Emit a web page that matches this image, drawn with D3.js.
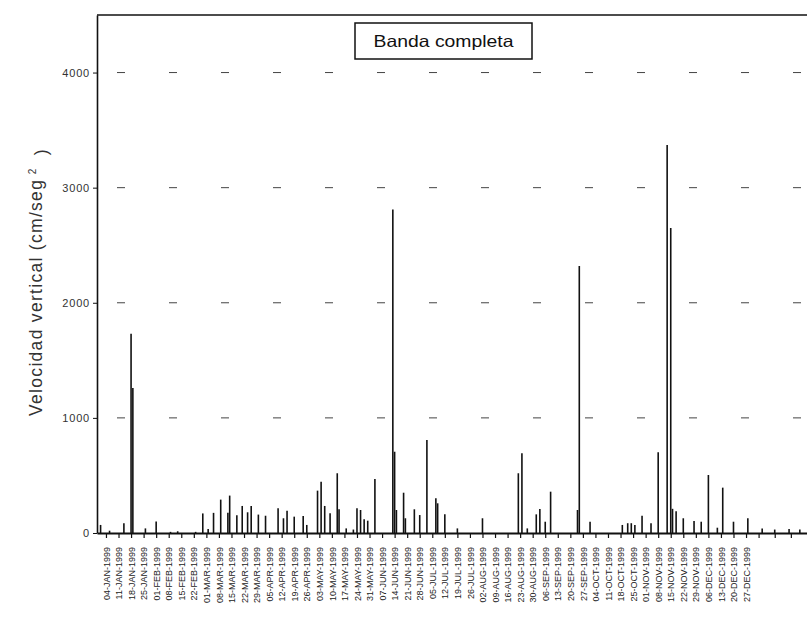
<!DOCTYPE html>
<html>
<head>
<meta charset="utf-8">
<script src="https://cdn.jsdelivr.net/npm/d3@7/dist/d3.min.js"></script>
<style>
  html, body { margin: 0; padding: 0; background: #fff; }
  svg { display: block; font-family: "Liberation Sans", Arial, Helvetica, sans-serif; }
</style>
</head>
<body>
<svg id="chart" width="807" height="618"></svg>
<script>
// ---------------- DATA ----------------
const spikeDates = [
  "1999-01-01","1999-01-06","1999-01-14","1999-01-18","1999-01-19","1999-01-26","1999-02-01","1999-02-09",
  "1999-02-13","1999-02-23","1999-02-27","1999-03-02","1999-03-05","1999-03-09","1999-03-13","1999-03-14",
  "1999-03-18","1999-03-21","1999-03-24","1999-03-26","1999-03-30","1999-04-03","1999-04-10","1999-04-13",
  "1999-04-15","1999-04-19","1999-04-24","1999-04-26","1999-05-02","1999-05-04","1999-05-06","1999-05-09",
  "1999-05-13","1999-05-14","1999-05-18","1999-05-22","1999-05-24","1999-05-26","1999-05-28","1999-05-30",
  "1999-06-03","1999-06-13","1999-06-14","1999-06-15","1999-06-19","1999-06-20","1999-06-25","1999-06-28",
  "1999-07-02","1999-07-07","1999-07-08","1999-07-12","1999-07-19","1999-08-02","1999-08-22","1999-08-24",
  "1999-08-27","1999-09-01","1999-09-03","1999-09-06","1999-09-09","1999-09-24","1999-09-25","1999-10-01",
  "1999-10-19","1999-10-22","1999-10-24","1999-10-26","1999-10-30","1999-11-04","1999-11-08","1999-11-13",
  "1999-11-15","1999-11-16","1999-11-18","1999-11-22","1999-11-28","1999-12-02","1999-12-06","1999-12-11",
  "1999-12-14","1999-12-20","1999-12-28","2000-01-05","2000-01-12","2000-01-20","2000-01-26"
];
const spikeValues = [
  70, 20, 85, 1730, 1260, 40, 100, 10,
  15, 10, 170, 35, 175, 290, 175, 325,
  155, 235, 180, 235, 160, 150, 215, 128,
  194, 142, 148, 70, 368, 446, 235, 171,
  519, 206, 40, 30, 215, 200, 119, 107,
  469, 2810, 706, 200, 350, 128, 206, 156,
  808, 301, 258, 162, 40, 128, 519, 693,
  40, 162, 209, 98, 359, 200, 2320, 98,
  70, 85, 85, 70, 150, 85, 702, 3370,
  2650, 210, 190, 128, 104, 98, 504, 46,
  394, 98, 128, 40, 30, 35, 30
];

const tickDates = [
  "1999-01-04","1999-01-11","1999-01-18","1999-01-25","1999-02-01","1999-02-08","1999-02-15","1999-02-22",
  "1999-03-01","1999-03-08","1999-03-15","1999-03-22","1999-03-29","1999-04-05","1999-04-12","1999-04-19",
  "1999-04-26","1999-05-03","1999-05-10","1999-05-17","1999-05-24","1999-05-31","1999-06-07","1999-06-14",
  "1999-06-21","1999-06-28","1999-07-05","1999-07-12","1999-07-19","1999-07-26","1999-08-02","1999-08-09",
  "1999-08-16","1999-08-23","1999-08-30","1999-09-06","1999-09-13","1999-09-20","1999-09-27","1999-10-04",
  "1999-10-11","1999-10-18","1999-10-25","1999-11-01","1999-11-08","1999-11-15","1999-11-22","1999-11-29",
  "1999-12-06","1999-12-13","1999-12-20","1999-12-27"
];
const tickLabels = [
  "04-JAN-1999","11-JAN-1999","18-JAN-1999","25-JAN-1999","01-FEB-1999","08-FEB-1999","15-FEB-1999","22-FEB-1999",
  "01-MAR-1999","08-MAR-1999","15-MAR-1999","22-MAR-1999","29-MAR-1999","05-APR-1999","12-APR-1999","19-APR-1999",
  "26-APR-1999","03-MAY-1999","10-MAY-1999","17-MAY-1999","24-MAY-1999","31-MAY-1999","07-JUN-1999","14-JUN-1999",
  "21-JUN-1999","28-JUN-1999","05-JUL-1999","12-JUL-1999","19-JUL-1999","26-JUL-1999","02-AUG-1999","09-AUG-1999",
  "16-AUG-1999","23-AUG-1999","30-AUG-1999","06-SEP-1999","13-SEP-1999","20-SEP-1999","27-SEP-1999","04-OCT-1999",
  "11-OCT-1999","18-OCT-1999","25-OCT-1999","01-NOV-1999","08-NOV-1999","15-NOV-1999","22-NOV-1999","29-NOV-1999",
  "06-DEC-1999","13-DEC-1999","20-DEC-1999","27-DEC-1999"
];
const extraTickDates = ["2000-01-03","2000-01-12","2000-01-21"];

const yTicks = [0, 1000, 2000, 3000, 4000];
const gridValues = [1000, 2000, 3000, 4000];
const xDomain = ["1998-12-30", "2000-01-30"];
const yDomain = [0, 4500];
const legendText = "Banda completa";

// ---------------- CHART ----------------
(function () {
const parse = d3.timeParse("%Y-%m-%d");
const svg = d3.select("#chart");
const mLeft = 97, mRight = 807, mTop = 15, mBottom = 533;

const x = d3.scaleTime().domain(xDomain.map(parse)).range([mLeft, mRight]);
const y = d3.scaleLinear().domain(yDomain).range([mBottom, mTop]);

const ink = "#111";

// dashed gridline fragments (faint, broken as in the scanned original)
svg.append("g").selectAll("line").data(gridValues).join("line")
  .attr("x1", mLeft + 20).attr("x2", mRight)
  .attr("y1", d => y(d)).attr("y2", d => y(d))
  .attr("stroke", "#444").attr("stroke-width", 1)
  .attr("stroke-dasharray", "8 44");

// top frame line
svg.append("line")
  .attr("x1", mLeft).attr("x2", mRight).attr("y1", mTop).attr("y2", mTop)
  .attr("stroke", ink).attr("stroke-width", 1.3);

// spikes
const data = spikeDates.map((d, i) => ({date: parse(d), value: spikeValues[i]}));
svg.append("g").selectAll("line").data(data).join("line")
  .attr("x1", d => x(d.date)).attr("x2", d => x(d.date))
  .attr("y1", y(0)).attr("y2", d => y(d.value))
  .attr("stroke", ink).attr("stroke-width", 1.6);

// x axis
const allTicks = tickDates.concat(extraTickDates).map(parse);
const labelMap = new Map(tickDates.map((d, i) => [+parse(d), tickLabels[i]]));
const xAxis = d3.axisBottom(x).tickValues(allTicks).tickSize(5).tickSizeOuter(0)
  .tickFormat(d => labelMap.get(+d) || "");
const gx = svg.append("g").attr("transform", `translate(0,${mBottom})`).call(xAxis);
gx.select(".domain").attr("stroke", ink).attr("stroke-width", 1.8);
gx.selectAll(".tick line").attr("stroke", ink).attr("stroke-width", 1.2);
gx.selectAll(".tick text")
  .attr("font-size", 9).attr("fill", "#222")
  .attr("font-family", "'Liberation Sans', Arial, sans-serif")
  .attr("text-anchor", "end")
  .attr("transform", "rotate(-90)")
  .attr("x", -14).attr("y", 0).attr("dy", "0.35em");

// y axis
const yAxis = d3.axisLeft(y).tickValues(yTicks).tickSize(4).tickSizeOuter(0).tickFormat(d3.format("d"));
const gy = svg.append("g").attr("transform", `translate(${mLeft},0)`).call(yAxis);
gy.select(".domain").attr("stroke", ink).attr("stroke-width", 1.6);
gy.selectAll(".tick line").attr("stroke", ink);
gy.selectAll(".tick text").attr("font-size", 11).attr("fill", "#333")
  .attr("letter-spacing", "0.8px")
  .attr("font-family", "'Liberation Sans', Arial, sans-serif");

// y axis title
const yt = svg.append("text")
  .attr("transform", "translate(42,282) rotate(-90)")
  .attr("text-anchor", "middle")
  .attr("font-size", 17.5).attr("fill", "#333")
  .attr("letter-spacing", "1.3px");
yt.append("tspan").text("Velocidad vertical (cm/seg");
yt.append("tspan").attr("dy", "-0.6em").attr("dx", "0.45em").attr("font-size", 10).text("2");
yt.append("tspan").attr("dy", "0.6em").attr("dx", "0.7em").text(")");

// legend box
const lx = 355, ly = 23, lw = 177, lh = 36;
svg.append("rect").attr("x", lx).attr("y", ly).attr("width", lw).attr("height", lh)
  .attr("fill", "#fff").attr("stroke", ink).attr("stroke-width", 1.5);
svg.append("text").attr("x", lx + lw / 2).attr("y", ly + 24)
  .attr("text-anchor", "middle").attr("font-size", 16.5).attr("fill", "#111")
  .attr("textLength", 140).attr("lengthAdjust", "spacingAndGlyphs")
  .text(legendText);
})();
</script>
</body>
</html>
